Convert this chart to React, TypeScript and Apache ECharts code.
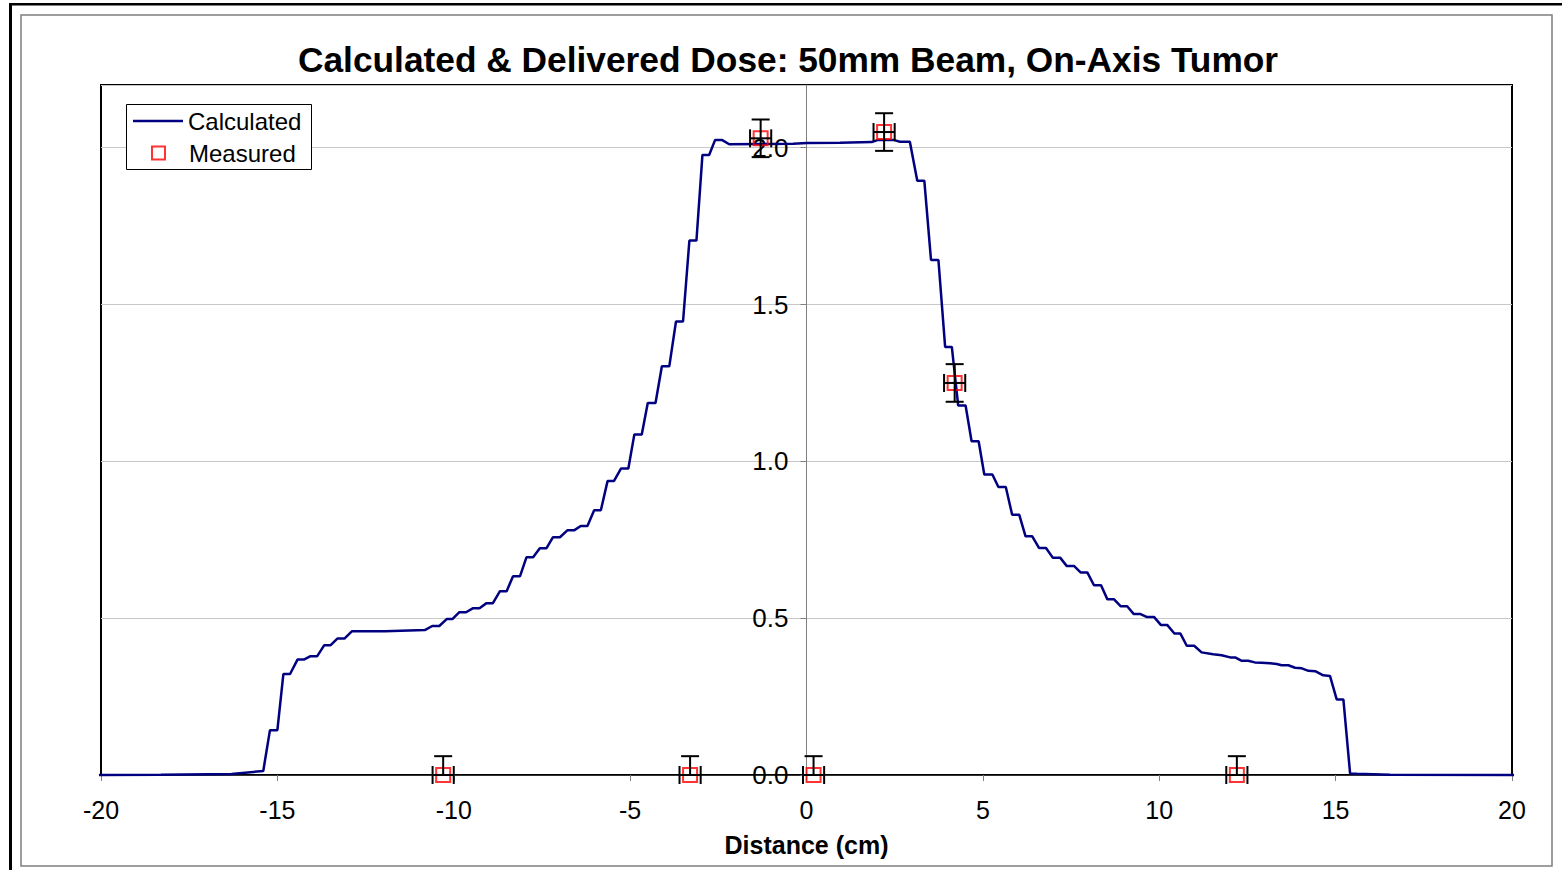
import React, { useEffect, useRef } from "react";
import * as echarts from "echarts";

const TITLE = "Calculated & Delivered Dose: 50mm Beam, On-Axis Tumor";
const X_NAME = "Distance (cm)";

const calcX = [-20.2, -18.3, -16.3, -15.4, -15.21, -15.0, -14.83, -14.64, -14.43, -14.25, -14.06, -13.87, -13.67, -13.49, -13.3, -13.1, -12.89, -11.95, -10.82, -10.61, -10.41, -10.2, -10.04, -9.84, -9.65, -9.45, -9.27, -9.07, -8.89, -8.69, -8.5, -8.32, -8.12, -7.94, -7.75, -7.56, -7.37, -7.19, -6.99, -6.78, -6.59, -6.4, -6.21, -6.02, -5.83, -5.64, -5.46, -5.26, -5.05, -4.88, -4.67, -4.5, -4.28, -4.1, -3.89, -3.7, -3.5, -3.32, -3.12, -2.95, -2.76, -2.59, -2.4, -2.19, -1.32, -0.38, 0.01, 0.95, 1.85, 2.03, 2.46, 2.65, 2.93, 3.14, 3.34, 3.53, 3.74, 3.93, 4.12, 4.3, 4.51, 4.68, 4.88, 5.04, 5.27, 5.44, 5.65, 5.83, 6.03, 6.21, 6.4, 6.59, 6.79, 6.98, 7.19, 7.38, 7.59, 7.77, 7.96, 8.15, 8.35, 8.53, 8.72, 8.91, 9.09, 9.28, 9.47, 9.64, 9.85, 10.05, 10.23, 10.43, 10.6, 10.78, 10.99, 11.2, 11.53, 11.77, 12.01, 12.15, 12.34, 12.52, 12.71, 12.9, 13.14, 13.33, 13.47, 13.66, 13.85, 14.04, 14.23, 14.42, 14.65, 14.84, 15.03, 15.22, 15.41, 15.6, 16.54, 20.2];

const calcY = [0, 0.001, 0.003, 0.013, 0.143, 0.143, 0.322, 0.322, 0.368, 0.368, 0.379, 0.379, 0.414, 0.414, 0.435, 0.435, 0.458, 0.458, 0.462, 0.475, 0.475, 0.497, 0.497, 0.519, 0.519, 0.532, 0.532, 0.548, 0.548, 0.586, 0.586, 0.634, 0.634, 0.694, 0.694, 0.723, 0.723, 0.758, 0.758, 0.78, 0.78, 0.794, 0.794, 0.844, 0.844, 0.937, 0.937, 0.977, 0.977, 1.086, 1.086, 1.186, 1.186, 1.303, 1.303, 1.446, 1.446, 1.704, 1.704, 1.977, 1.977, 2.025, 2.025, 2.011, 2.012, 2.013, 2.015, 2.016, 2.018, 2.025, 2.025, 2.019, 2.019, 1.895, 1.895, 1.642, 1.642, 1.365, 1.365, 1.178, 1.178, 1.064, 1.064, 0.958, 0.958, 0.918, 0.918, 0.83, 0.83, 0.761, 0.761, 0.724, 0.724, 0.693, 0.693, 0.666, 0.666, 0.646, 0.646, 0.605, 0.605, 0.56, 0.56, 0.538, 0.538, 0.513, 0.513, 0.504, 0.504, 0.478, 0.478, 0.451, 0.451, 0.412, 0.412, 0.391, 0.385, 0.382, 0.375, 0.375, 0.364, 0.364, 0.359, 0.358, 0.356, 0.354, 0.35, 0.35, 0.342, 0.34, 0.332, 0.331, 0.318, 0.316, 0.241, 0.241, 0.005, 0.004, 0.001, 0];

const measX = [-10.3, -3.3, -1.3, 0.2, 2.2, 4.2, 12.2];
const measY = [0, 0, 2.03, 0, 2.05, 1.25, 0];
const measYErr = [0.06, 0.06, 0.06, 0.06, 0.06, 0.06, 0.06];
const measXErr = [0.3, 0.3, 0.3, 0.3, 0.3, 0.3, 0.3];

const FONT = "'Liberation Sans', Arial, sans-serif";

const GRID_LEFT = 101;
const GRID_RIGHT = 50;
const CHART_W = 1562;
const X_MIN = -20;
const X_MAX = 20;

export default function App() {
  const ref = useRef<HTMLDivElement>(null);

  useEffect(() => {
    if (!ref.current) return;
    const chart = echarts.init(ref.current, null, { renderer: "svg" });

    const lineData = calcX.map((x, i) => [x, calcY[i]]);
    const measData = measX.map((x, i) => [x, measY[i]]);
    const errData = measX.map((x, i) => [x, measY[i], measXErr[i], measYErr[i]]);

    const Y_MIN = 0;
    // place the y axis on x = 0 (inside the grid)
    const plotW = CHART_W - GRID_LEFT - GRID_RIGHT;
    const zeroOffset = -((0 - X_MIN) / (X_MAX - X_MIN)) * plotW;

    const option: any = {
      animation: false,
      backgroundColor: "#ffffff",
      textStyle: { fontFamily: FONT },
      title: {
        text: TITLE,
        left: 298,
        top: 42,
        padding: 0,
        textStyle: { fontFamily: FONT, fontSize: 35.3, fontWeight: "bold", color: "#000" },
      },
      legend: [
        {
          data: [{ name: "Calculated", icon: "rect" }],
          left: 133,
          top: 109,
          padding: 0,
          z: 10,
          itemWidth: 50,
          itemHeight: 2.5,
          itemStyle: { color: "#000080", borderWidth: 0 },
          textStyle: { fontFamily: FONT, fontSize: 24, color: "#000" },
        },
        {
          data: [{ name: "Measured", icon: "rect" }],
          left: 151,
          top: 141,
          padding: 0,
          z: 10,
          itemWidth: 13,
          itemHeight: 13,
          itemStyle: { color: "rgba(0,0,0,0)", borderColor: "#ff0000", borderWidth: 2 },
          textStyle: { fontFamily: FONT, fontSize: 24, color: "#000", padding: [0, 0, 0, 19] },
        },
      ],
      grid: {
        left: GRID_LEFT,
        right: GRID_RIGHT,
        top: 85,
        bottom: 95,
        show: true,
        borderColor: "#000",
        borderWidth: 2,
        backgroundColor: "#fff",
      },
      xAxis: {
        type: "value",
        min: X_MIN,
        max: X_MAX,
        interval: 5,
        name: X_NAME,
        nameLocation: "middle",
        nameGap: 57,
        nameTextStyle: { fontFamily: FONT, fontSize: 25, fontWeight: "bold", color: "#000" },
        axisLine: { onZero: false, lineStyle: { color: "#000", width: 1.5 } },
        axisTick: { show: true, length: 6, lineStyle: { color: "#808080", width: 1 } },
        axisLabel: { fontFamily: FONT, fontSize: 25, color: "#000", margin: 22 },
        splitLine: { show: false },
      },
      yAxis: {
        type: "value",
        min: Y_MIN,
        max: 2.2,
        interval: 0.5,
        position: "left",
        offset: zeroOffset,
        axisLine: { show: true, onZero: false, lineStyle: { color: "#808080", width: 1 } },
        axisTick: { show: true, length: 6, lineStyle: { color: "#808080", width: 1 } },
        axisLabel: {
          fontFamily: FONT,
          fontSize: 26,
          color: "#000",
          margin: 18,
          showMaxLabel: false,
          formatter: (v: number) => (Math.abs(v - 2.2) < 1e-6 ? "" : v.toFixed(1)),
        },
        splitLine: { show: true, lineStyle: { color: "#c8c8c8", width: 1 } },
      },
      graphic: [
        { type: "line", silent: true, z: 100, shape: { x1: 10.5, y1: 4, x2: 10.5, y2: 870 }, style: { stroke: "#000", lineWidth: 3 } },
        { type: "line", silent: true, z: 100, shape: { x1: 9, y1: 4.2, x2: 1562, y2: 4.2 }, style: { stroke: "#000", lineWidth: 2.5 } },
        { type: "rect", silent: true, z: 100, shape: { x: 21, y: 15, width: 1531, height: 851 }, style: { fill: "none", stroke: "#7f7f7f", lineWidth: 1.5 } },
        { type: "rect", silent: true, z: 5, shape: { x: 126.5, y: 104.5, width: 185, height: 65 }, style: { fill: "#fff", stroke: "#000", lineWidth: 1 } },
      ],
      series: [
        {
          name: "Calculated",
          type: "line",
          data: lineData,
          symbol: "none",
          showSymbol: false,
          clip: false,
          lineStyle: { color: "#000080", width: 2.5 },
          itemStyle: { color: "#000080" },
          z: 2,
        },
        {
          name: "Measured",
          type: "scatter",
          data: measData,
          symbol: "rect",
          symbolSize: 14,
          clip: false,
          itemStyle: { color: "rgba(0,0,0,0)", borderColor: "#ff0000", borderWidth: 2 },
          z: 3,
        },
        {
          name: "Error bars",
          type: "custom",
          data: errData,
          z: 4,
          renderItem: (params: any, api: any) => {
            const x = api.value(0);
            const y = api.value(1);
            const ex = api.value(2);
            const ey = api.value(3);
            const lowVal = Math.max(y - ey, Y_MIN);
            const top = api.coord([x, y + ey]);
            const bot = api.coord([x, lowVal]);
            const left = api.coord([x - ex, y]);
            const right = api.coord([x + ex, y]);
            const cap = 9;
            const style = { stroke: "#000", lineWidth: 2 };
            const children: any[] = [
              { type: "line", shape: { x1: top[0], y1: top[1], x2: bot[0], y2: bot[1] }, style },
              { type: "line", shape: { x1: top[0] - cap, y1: top[1], x2: top[0] + cap, y2: top[1] }, style },
              { type: "line", shape: { x1: left[0], y1: left[1], x2: right[0], y2: right[1] }, style },
              { type: "line", shape: { x1: left[0], y1: left[1] - cap, x2: left[0], y2: left[1] + cap }, style },
              { type: "line", shape: { x1: right[0], y1: right[1] - cap, x2: right[0], y2: right[1] + cap }, style },
            ];
            if (y - ey >= Y_MIN) {
              children.push({ type: "line", shape: { x1: bot[0] - cap, y1: bot[1], x2: bot[0] + cap, y2: bot[1] }, style });
            }
            return { type: "group", children };
          },
        },
      ],
    };

    chart.setOption(option);
    return () => chart.dispose();
  }, []);

  return (
    <div
      ref={ref}
      style={{ position: "absolute", left: 0, top: 0, width: 1562, height: 870 }}
    />
  );
}
